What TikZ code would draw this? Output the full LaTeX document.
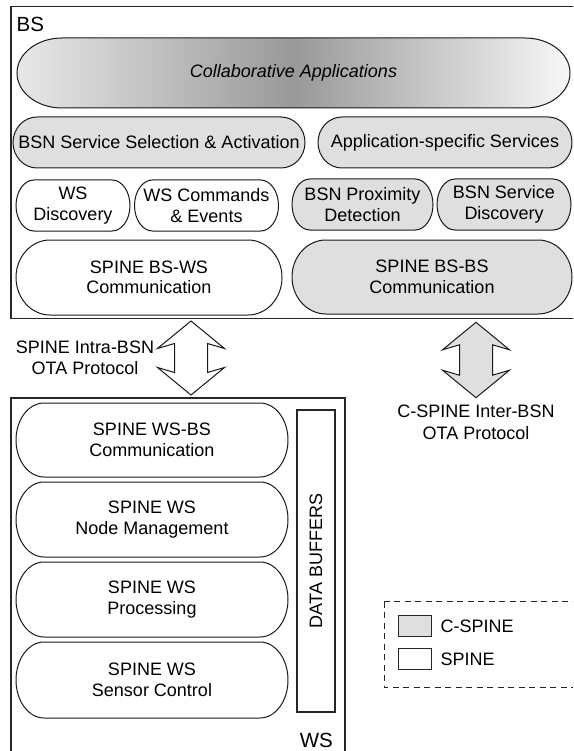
\documentclass[tikz,border=0pt]{standalone}
\usepackage{fontspec}
\setmainfont{Liberation Sans}

% stadium-like box with elliptical ends: name, left, top, right, bottom, end radius, style, text
\newcommand\pillbox[8]{%
  \pgfmathsetmacro\pbcx{(#2+#4)/2}%
  \pgfmathsetmacro\pbcy{(#3+#5)/2}%
  \pgfmathsetmacro\pbry{(#5-#3)/2}%
  \path[#7] (#2+#6,-#3) -- (#4-#6,-#3)
     arc[start angle=90, end angle=-90, x radius=#6, y radius=\pbry]
     -- (#2+#6,-#5)
     arc[start angle=270, end angle=90, x radius=#6, y radius=\pbry] -- cycle;
  \node[lbl] (#1) at (\pbcx,-\pbcy) {#8};
}

% vertical two-headed block arrow with swept-back barbs: name, centre x, top tip, bottom tip, style
\newcommand\blockarrow[5]{%
  \path[#5] (#2,-#3) coordinate (#1-top)
     -- (#2+33.5,-#3-27.5) -- (#2+16.5,-#3-22.5)
     -- (#2+16.5,-#4+22.5) -- (#2+33.5,-#4+27.5)
     -- (#2,-#4) coordinate (#1-bot)
     -- (#2-33.5,-#4+27.5) -- (#2-16.5,-#4+22.5)
     -- (#2-16.5,-#3-22.5) -- (#2-33.5,-#3-27.5) -- cycle;
}

\begin{document}
\begin{tikzpicture}[x=1pt,y=1pt,
  outline/.style={draw=black!90, line width=1pt},
  cspine/.style={outline, fill=gray!25},
  plain/.style={outline, fill=white},
  collab/.style={outline, left color=gray!18, right color=gray!6, middle color=gray!80},
  frame/.style={draw=black!85, line width=1.3pt},
  lbl/.style={inner sep=0pt, font=\fontsize{18}{20.5}\selectfont, text=black, align=center},
  big/.style={inner sep=0pt, font=\fontsize{20.5}{24}\selectfont, text=black},
  swatch/.style={draw=black!85, line width=1pt, minimum width=33, minimum height=21, inner sep=0pt},
]
\useasboundingbox (0,0) rectangle (573,-751);
\clip (0,0) rectangle (573,-751);

% ---------- base station ----------
\draw[frame] (11,-6.5) rectangle (590,-318.5);
\node[big, anchor=base west] (bs) at (16.5,-31.7) {BS};

\pillbox{collab}{17}{38}{570}{108}{45}{collab}{\itshape Collaborative Applications}
\pillbox{sel}{13}{117}{305}{168}{24}{cspine}{BSN Service Selection \& Activation}
\pillbox{appsvc}{318}{117}{572}{168}{24}{cspine}{Application-specific Services}
\pillbox{wsdisc}{16}{180}{130}{231}{18}{plain}{WS\\Discovery}
\pillbox{wscmd}{134.5}{180}{278.5}{231}{18}{plain}{WS Commands\\\& Events}
\pillbox{prox}{292}{179}{433}{230}{18}{cspine}{BSN Proximity\\Detection}
\pillbox{svcdisc}{437}{179}{571}{230}{18}{cspine}{BSN Service\\Discovery}
\pillbox{bsws}{16}{240}{282}{315}{34}{plain}{SPINE BS-WS\\Communication}
\pillbox{bsbs}{292}{240}{572}{314}{34}{cspine}{SPINE BS-BS\\Communication}

% ---------- over-the-air protocols ----------
\blockarrow{intra}{191}{321}{395}{outline, fill=white}
\blockarrow{inter}{476}{322.3}{397.7}{outline, fill=gray!25}
\node[lbl] (intralbl) at (85,-358) {SPINE Intra-BSN\\OTA Protocol};
\node[lbl, font=\fontsize{18}{22.5}\selectfont] (interlbl) at (476,-422.5) {C-SPINE Inter-BSN\\OTA Protocol};

% ---------- wearable sensor node ----------
\draw[frame] (11,-398) rectangle (345,-770);
\node[big, anchor=base east] (ws) at (333,-747) {WS};

\pillbox{wsbs}{16}{403}{288}{477}{28}{plain}{SPINE WS-BS\\Communication}
\pillbox{nodemgmt}{16}{482}{288}{557}{28}{plain}{SPINE WS\\Node Management}
\pillbox{proc}{16}{562}{288}{637}{28}{plain}{SPINE WS\\Processing}
\pillbox{sensor}{16}{642}{288}{718}{28}{plain}{SPINE WS\\Sensor Control}

\node[draw=black!85, line width=1.1pt, rotate=90, minimum width=302, minimum height=38,
      inner sep=0pt, font=\fontsize{18}{20.5}\selectfont, text=black]
      (buffers) at (316,-561) {DATA BUFFERS};

% ---------- legend ----------
\draw[draw=black!85, line width=1pt, dash pattern=on 6pt off 4.5pt] (384,-601.7) rectangle (600,-687.7);
\node[swatch, fill=gray!25] (keyc) at (414.5,-626.3) {};
\node[swatch, fill=white] (keys) at (414.5,-658.8) {};
\node[lbl, anchor=west] (keyclbl) at (440.5,-626.3) {C-SPINE};
\node[lbl, anchor=west] (keyslbl) at (440.5,-658.8) {SPINE};
\end{tikzpicture}
\end{document}
